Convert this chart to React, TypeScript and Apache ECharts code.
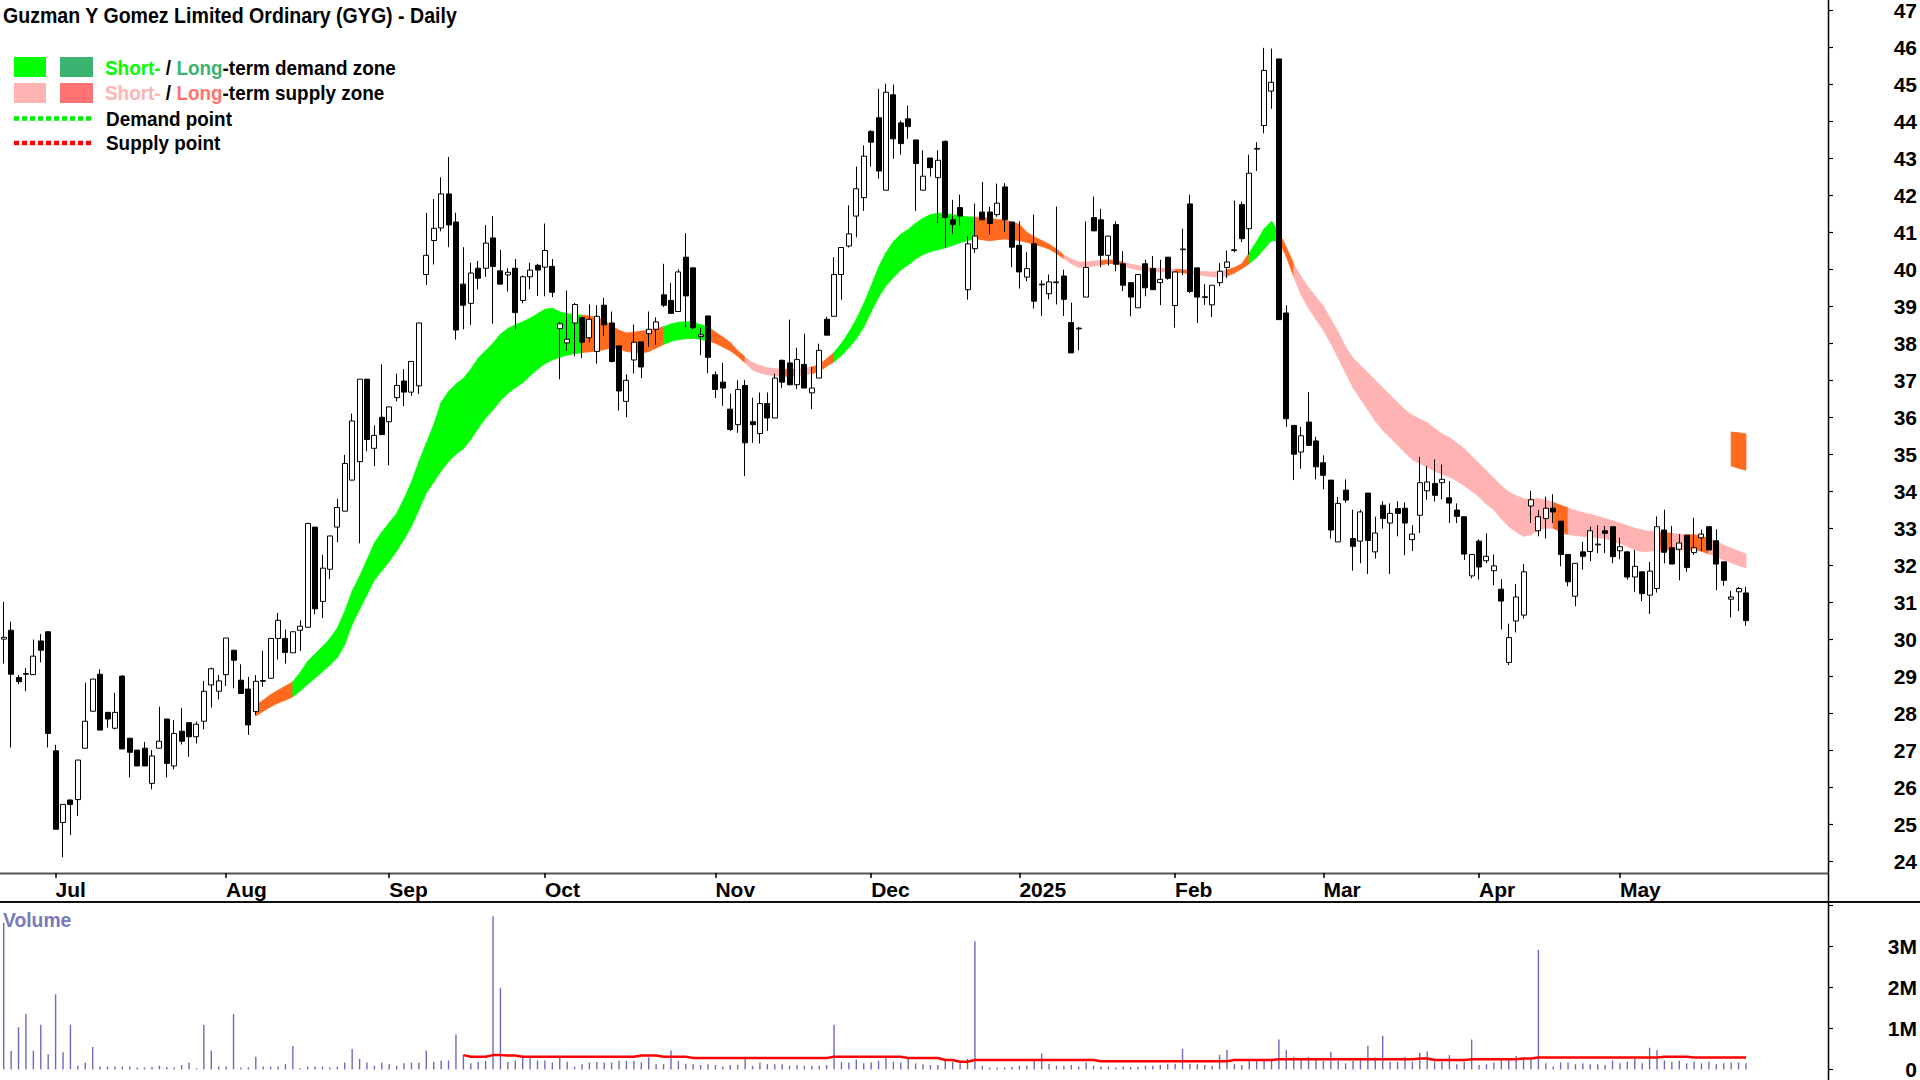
import React, { useEffect, useRef } from 'react';
import * as echarts from 'echarts';

const TITLE = 'Guzman Y Gomez Limited Ordinary (GYG) - Daily';
const FONT = '"Liberation Sans", Arial, Helvetica, sans-serif';
const monthNames = ['Jan', 'Feb', 'Mar', 'Apr', 'May', 'Jun', 'Jul', 'Aug', 'Sep', 'Oct', 'Nov', 'Dec'];
const holidays = ['2024-12-25', '2024-12-26', '2025-01-01', '2025-01-27', '2025-04-18', '2025-04-21', '2025-04-25', '2025-06-09'];
const slotCount = 247;

const openP = [30.00, 30.24, 28.96, 29.05, 29.04, 29.95, 30.20, 26.98, 25.04, 25.65,
  25.66, 27.05, 28.05, 29.05, 28.02, 27.59, 29.00, 27.32, 27.00, 27.05,
  26.10, 27.05, 27.84, 26.57, 27.51, 27.74, 27.36, 27.78, 28.76, 28.59,
  29.04, 29.70, 28.89, 28.65, 28.04, 28.86, 28.94, 30.02, 30.02, 29.63,
  30.24, 30.32, 33.03, 31.02, 31.89, 33.03, 33.46, 34.30, 34.80, 37.03,
  35.16, 36.00, 35.88, 36.53, 36.98, 36.68, 36.85, 39.86, 40.78, 41.12,
  42.04, 41.28, 39.60, 39.08, 40.03, 40.03, 40.85, 39.96, 39.85, 40.03,
  39.16, 39.80, 40.11, 40.06, 40.08, 38.40, 38.01, 38.55, 38.70, 38.15,
  37.78, 39.03, 38.55, 37.93, 36.43, 37.55, 38.04, 38.26, 38.38, 39.31,
  39.16, 38.86, 40.33, 40.04, 38.18, 38.74, 37.15, 36.95, 36.22, 35.80,
  36.86, 35.88, 35.56, 36.37, 35.98, 37.54, 37.47, 36.88, 37.43, 36.66,
  37.06, 38.65, 38.73, 39.86, 40.63, 41.44, 41.94, 43.73, 44.10, 42.14,
  44.72, 43.96, 44.07, 43.50, 42.14, 43.01, 42.48, 43.46, 41.34, 41.67,
  39.45, 40.56, 41.55, 41.55, 41.48, 42.23, 41.28, 40.65, 39.79, 40.69,
  39.58, 39.34, 39.64, 39.82, 38.56, 38.39, 39.25, 41.40, 41.34, 40.38,
  41.21, 40.15, 39.64, 38.96, 40.15, 40.02, 39.64, 40.33, 39.02, 40.53,
  41.77, 40.04, 39.24, 39.04, 39.64, 40.05, 40.51, 41.75, 41.10, 43.25,
  43.89, 44.82, 45.69, 38.82, 35.78, 35.06, 35.87, 35.36, 34.77, 34.30,
  32.63, 34.03, 32.72, 32.65, 33.95, 32.36, 33.62, 33.14, 33.53, 33.54,
  32.69, 33.35, 34.01, 34.21, 34.23, 33.82, 33.49, 33.31, 31.71, 32.65,
  32.12, 31.85, 31.35, 29.37, 30.49, 30.65, 33.60, 32.93, 33.26, 33.54,
  33.19, 32.29, 31.16, 32.36, 32.37, 32.55, 32.93, 33.04, 32.39, 32.36,
  31.68, 31.82, 31.19, 31.37, 32.95, 32.47, 32.43, 32.81, 32.34, 32.74,
  33.04, 32.66, 32.09, 31.08, 31.28, 31.25];

const closeP = [30.05, 29.05, 28.85, 29.07, 29.54, 29.70, 27.45, 24.86, 25.53, 25.53,
  26.73, 27.78, 28.92, 27.54, 27.84, 28.02, 27.03, 26.94, 26.57, 26.57,
  26.84, 27.24, 26.64, 27.45, 27.24, 27.36, 27.70, 28.59, 29.20, 28.87,
  30.03, 29.43, 28.53, 27.68, 28.86, 28.88, 30.02, 30.51, 29.64, 30.20,
  30.35, 33.13, 30.82, 31.92, 32.79, 33.56, 34.75, 35.90, 37.03, 35.40,
  35.51, 35.53, 36.28, 36.86, 36.68, 37.51, 38.55, 40.38, 41.11, 42.04,
  41.20, 38.36, 39.03, 39.90, 39.76, 40.71, 40.08, 39.60, 39.92, 38.83,
  39.80, 39.98, 39.98, 40.51, 39.38, 38.53, 38.11, 39.05, 38.03, 38.65,
  38.73, 38.50, 37.51, 36.71, 37.00, 38.03, 37.36, 38.38, 38.58, 39.03,
  38.81, 39.93, 39.28, 38.42, 38.23, 37.62, 36.75, 36.79, 35.67, 36.75,
  35.31, 35.80, 36.37, 35.98, 37.06, 36.95, 36.88, 37.56, 36.79, 36.79,
  37.81, 38.22, 39.86, 40.59, 40.96, 42.18, 43.06, 43.44, 42.66, 44.79,
  43.53, 43.40, 43.86, 42.86, 42.52, 42.75, 42.95, 41.40, 41.21, 41.44,
  40.69, 40.90, 41.34, 41.24, 41.79, 41.34, 40.60, 39.93, 40.02, 39.14,
  39.60, 39.66, 39.66, 39.19, 37.74, 38.41, 40.05, 41.04, 40.38, 40.90,
  40.14, 39.57, 39.25, 39.86, 39.50, 39.45, 39.73, 39.76, 39.93, 40.55,
  39.40, 39.25, 39.26, 39.57, 39.95, 40.20, 40.53, 40.83, 42.60, 43.27,
  45.38, 45.06, 38.64, 35.96, 35.00, 35.50, 35.24, 34.66, 34.43, 32.95,
  33.67, 33.76, 32.51, 33.44, 32.67, 32.87, 33.26, 33.40, 33.40, 33.14,
  32.84, 34.23, 34.25, 33.89, 34.32, 33.68, 33.32, 32.30, 32.29, 31.95,
  32.24, 31.98, 31.03, 30.04, 31.14, 31.82, 33.77, 33.31, 33.54, 33.44,
  32.29, 31.55, 32.05, 32.24, 32.93, 32.57, 32.86, 32.23, 32.50, 31.68,
  31.97, 31.23, 31.84, 33.04, 32.35, 32.03, 32.60, 31.94, 32.47, 32.84,
  32.41, 32.03, 31.59, 31.14, 31.37, 30.50];

const lowP = [29.34, 27.07, 28.78, 28.59, 29.03, 29.37, 27.07, 24.86, 24.10, 24.70,
  25.22, 27.05, 28.05, 27.54, 27.61, 27.56, 27.03, 26.26, 26.57, 26.57,
  25.94, 27.05, 26.26, 26.48, 27.15, 26.82, 27.18, 27.56, 28.15, 28.37,
  28.73, 28.67, 28.53, 27.41, 27.95, 28.71, 28.94, 29.45, 29.34, 29.63,
  29.68, 30.32, 30.67, 30.57, 31.62, 32.62, 33.46, 34.30, 32.59, 35.08,
  34.68, 35.53, 34.70, 36.43, 36.30, 36.58, 36.63, 39.58, 40.13, 41.03,
  40.60, 38.10, 38.38, 38.50, 39.46, 39.80, 38.53, 39.60, 39.40, 38.38,
  39.08, 39.46, 39.28, 39.27, 39.25, 37.03, 37.80, 37.65, 37.60, 38.03,
  37.45, 38.20, 37.48, 36.18, 36.00, 37.18, 37.06, 37.90, 37.96, 38.98,
  38.81, 38.86, 38.43, 38.38, 37.68, 37.19, 36.52, 36.31, 35.63, 35.58,
  34.41, 35.31, 35.29, 35.63, 35.98, 36.79, 36.86, 36.76, 36.79, 36.22,
  37.06, 38.22, 38.73, 39.18, 40.59, 40.87, 41.58, 42.78, 42.45, 42.14,
  42.99, 43.10, 43.53, 41.58, 42.14, 42.51, 41.25, 40.58, 40.95, 41.18,
  39.18, 40.44, 41.34, 40.95, 41.42, 41.01, 40.06, 39.48, 39.68, 38.94,
  38.74, 39.19, 39.05, 38.74, 37.74, 37.81, 39.25, 41.04, 40.06, 40.10,
  39.95, 39.41, 38.73, 38.96, 39.27, 39.45, 39.03, 39.72, 38.42, 39.84,
  39.36, 38.55, 39.04, 38.71, 39.55, 39.77, 40.46, 40.74, 40.40, 42.66,
  43.68, 44.34, 38.64, 35.74, 34.30, 34.61, 35.24, 34.32, 34.05, 32.72,
  32.63, 33.69, 31.85, 32.05, 31.76, 32.18, 32.99, 31.76, 32.78, 32.27,
  32.38, 32.87, 33.77, 33.72, 33.78, 33.14, 33.14, 32.14, 31.64, 31.61,
  32.05, 31.46, 30.26, 29.30, 30.18, 30.56, 33.14, 32.78, 32.72, 33.14,
  31.97, 31.43, 30.89, 31.88, 32.11, 32.33, 32.33, 32.05, 32.16, 31.61,
  31.28, 31.03, 30.68, 31.26, 32.05, 32.03, 31.59, 31.82, 32.28, 32.38,
  32.41, 31.32, 31.44, 30.59, 30.76, 30.36];

const highP = [31.01, 30.47, 29.03, 29.22, 29.99, 30.14, 30.20, 27.14, 25.53, 25.66,
  26.73, 28.82, 28.92, 29.18, 28.02, 28.55, 29.03, 27.32, 27.00, 27.22,
  27.00, 28.17, 27.84, 27.81, 28.14, 27.74, 27.77, 28.87, 29.23, 29.03,
  30.03, 29.70, 29.32, 28.98, 29.03, 29.68, 30.02, 30.71, 30.26, 30.20,
  30.51, 33.13, 33.03, 32.28, 32.79, 33.80, 34.98, 36.10, 37.03, 37.03,
  35.78, 37.43, 36.28, 37.18, 37.30, 37.51, 38.55, 41.53, 41.90, 42.49,
  43.04, 41.53, 40.60, 40.18, 40.23, 41.20, 41.44, 40.53, 40.03, 40.28,
  39.83, 40.18, 40.15, 41.24, 40.28, 38.58, 39.43, 39.09, 38.70, 39.05,
  39.03, 39.23, 38.86, 37.93, 37.16, 38.51, 38.04, 38.86, 38.70, 40.15,
  39.63, 40.00, 40.98, 40.04, 38.42, 38.74, 37.24, 37.47, 36.64, 37.00,
  37.01, 36.53, 36.67, 36.67, 37.18, 37.56, 38.64, 37.88, 38.26, 37.36,
  37.99, 38.72, 40.33, 40.59, 41.73, 42.78, 43.35, 43.76, 44.88, 45.02,
  45.00, 44.02, 44.43, 43.50, 43.22, 43.01, 43.22, 43.49, 41.88, 42.02,
  40.90, 41.78, 42.36, 41.69, 42.32, 42.33, 41.28, 41.30, 40.47, 41.48,
  39.70, 39.86, 41.70, 39.99, 39.10, 38.44, 41.30, 41.97, 41.64, 40.90,
  41.30, 40.49, 39.64, 39.86, 40.26, 40.36, 40.26, 40.33, 39.93, 41.10,
  42.02, 40.04, 39.60, 39.57, 40.17, 40.51, 41.86, 41.83, 43.10, 43.44,
  45.99, 45.97, 45.69, 39.03, 35.78, 35.74, 36.68, 35.47, 34.97, 34.30,
  33.85, 34.32, 33.50, 33.50, 33.95, 33.31, 33.73, 33.67, 33.73, 33.70,
  33.08, 34.93, 34.68, 34.86, 34.72, 34.27, 33.67, 33.31, 32.29, 32.70,
  32.86, 32.29, 31.62, 30.42, 31.49, 32.03, 34.01, 33.49, 33.85, 33.92,
  33.19, 32.29, 32.05, 32.63, 33.04, 33.08, 33.06, 33.04, 32.74, 32.36,
  32.41, 31.82, 32.09, 33.32, 33.50, 33.06, 32.84, 32.81, 33.28, 32.96,
  33.04, 32.97, 32.09, 31.30, 31.41, 31.41];

// volume in millions of shares
const volumeM = [3.57, 0.45, 1.03, 1.35, 0.46, 1.09, 0.37, 1.83, 0.42, 1.09,
  0.09, 0.17, 0.55, 0.07, 0.07, 0.07, 0.07, 0.07, 0.05, 0.05,
  0.06, 0.09, 0.06, 0.05, 0.11, 0.17, 0.03, 1.09, 0.46, 0.07,
  0.07, 1.35, 0.05, 0.05, 0.31, 0.07, 0.07, 0.07, 0.13, 0.57,
  0.03, 0.07, 0.07, 0.07, 0.05, 0.07, 0.17, 0.50, 0.26, 0.17,
  0.09, 0.17, 0.13, 0.09, 0.15, 0.17, 0.17, 0.46, 0.19, 0.22,
  0.22, 0.85, 0.35, 0.15, 0.18, 0.21, 3.73, 1.99, 0.18, 0.22,
  0.29, 0.33, 0.22, 0.22, 0.17, 0.34, 0.19, 0.07, 0.13, 0.17,
  0.18, 0.17, 0.17, 0.21, 0.21, 0.21, 0.17, 0.30, 0.13, 0.13,
  0.46, 0.21, 0.14, 0.13, 0.11, 0.13, 0.11, 0.07, 0.11, 0.11,
  0.26, 0.09, 0.17, 0.13, 0.13, 0.13, 0.09, 0.11, 0.09, 0.09,
  0.09, 0.11, 1.09, 0.18, 0.17, 0.24, 0.15, 0.17, 0.21, 0.31,
  0.19, 0.17, 0.26, 0.15, 0.13, 0.11, 0.11, 0.26, 0.19, 0.15,
  0.26, 3.12, 0.09, 0.05, 0.05, 0.05, 0.06, 0.09, 0.09, 0.25,
  0.39, 0.14, 0.09, 0.09, 0.11, 0.07, 0.17, 0.09, 0.07, 0.07,
  0.05, 0.07, 0.06, 0.06, 0.09, 0.09, 0.11, 0.14, 0.14, 0.50,
  0.14, 0.13, 0.11, 0.09, 0.36, 0.48, 0.14, 0.11, 0.26, 0.24,
  0.25, 0.26, 0.73, 0.48, 0.31, 0.26, 0.31, 0.26, 0.21, 0.43,
  0.21, 0.15, 0.21, 0.26, 0.58, 0.29, 0.82, 0.19, 0.19, 0.31,
  0.19, 0.41, 0.44, 0.19, 0.19, 0.35, 0.13, 0.19, 0.73, 0.11,
  0.13, 0.17, 0.26, 0.26, 0.33, 0.26, 0.26, 2.91, 0.15, 0.07,
  0.17, 0.17, 0.13, 0.15, 0.13, 0.13, 0.11, 0.22, 0.15, 0.19,
  0.26, 0.15, 0.53, 0.47, 0.22, 0.19, 0.21, 0.15, 0.19, 0.15,
  0.19, 0.13, 0.15, 0.17, 0.17, 0.15];

// red volume average line, starting at candle 62
const volumeAvgStart = 62;
const volumeAvg = [0.35, 0.31, 0.31, 0.31, 0.35, 0.35, 0.34, 0.34,
  0.31, 0.31, 0.31, 0.31, 0.31, 0.31, 0.31, 0.31, 0.31, 0.31, 0.31, 0.31, 0.31, 0.31, 0.31, 0.31,
  0.34, 0.34, 0.34, 0.31, 0.31, 0.31, 0.31,
  0.28, 0.28, 0.28, 0.28, 0.28, 0.28, 0.28, 0.28, 0.28, 0.28, 0.28, 0.28, 0.28, 0.28, 0.28, 0.28, 0.28, 0.28, 0.28,
  0.31, 0.31, 0.31, 0.31, 0.31, 0.31, 0.31, 0.31, 0.31, 0.31,
  0.28, 0.28, 0.28, 0.28, 0.28, 0.23, 0.23, 0.19, 0.19,
  0.23, 0.23, 0.23, 0.23, 0.23, 0.23, 0.23, 0.23, 0.23, 0.23, 0.23, 0.23, 0.23, 0.23, 0.23, 0.23, 0.23,
  0.20, 0.20, 0.20, 0.20, 0.20, 0.20, 0.20, 0.20, 0.20, 0.20, 0.20, 0.20, 0.20, 0.20, 0.20, 0.20, 0.20, 0.20,
  0.23, 0.23, 0.23, 0.23, 0.23, 0.23,
  0.25, 0.25, 0.25, 0.25, 0.25, 0.25, 0.25, 0.25, 0.25, 0.25, 0.25, 0.25, 0.25, 0.25, 0.25, 0.25, 0.25, 0.25, 0.25,
  0.27, 0.27, 0.23, 0.23, 0.23, 0.23, 0.23,
  0.25, 0.25, 0.25, 0.25, 0.25, 0.25, 0.25, 0.27, 0.27,
  0.29, 0.29, 0.29, 0.29, 0.29, 0.29, 0.29, 0.29, 0.29, 0.29, 0.29, 0.29, 0.29, 0.29, 0.29, 0.29, 0.29,
  0.31, 0.31, 0.31, 0.31, 0.29, 0.29, 0.29, 0.29, 0.29, 0.29, 0.29, 0.29];

// demand / supply zone band, starting at candle 34
const zoneStart = 34;
const zoneTop = [28.22, 28.35, 28.5, 28.62, 28.73, 28.85, 29.1, 29.4, 29.6, 29.8,
  30.02, 30.3, 30.75, 31.3, 31.7, 32.15, 32.6, 32.9, 33.15, 33.4,
  33.8, 34.25, 34.8, 35.3, 35.8, 36.4, 36.7, 36.9, 37.05, 37.3,
  37.6, 37.8, 38.0, 38.25, 38.4, 38.5, 38.58, 38.68, 38.8, 38.92,
  38.95, 38.85, 38.8, 38.78, 38.76, 38.74, 38.7, 38.62, 38.48, 38.35,
  38.28, 38.3, 38.33, 38.35, 38.38, 38.45, 38.52, 38.57, 38.58, 38.57,
  38.5, 38.45, 38.3, 38.17, 38.02, 37.8, 37.63, 37.48, 37.4, 37.34,
  37.31, 37.3, 37.29, 37.3, 37.33, 37.36, 37.42, 37.58, 37.75, 38.0,
  38.3, 38.65, 39.07, 39.55, 40.06, 40.45, 40.75, 40.95, 41.08, 41.25,
  41.38, 41.48, 41.52, 41.51, 41.48, 41.45, 41.42, 41.41, 41.4, 41.38,
  41.35, 41.33, 41.28, 41.22, 41.0, 40.88, 40.78, 40.68, 40.55, 40.38,
  40.28, 40.2, 40.2, 40.22, 40.24, 40.26, 40.24, 40.2, 40.14, 40.1,
  40.06, 40.04, 40.03, 40.02, 40.0, 39.99, 39.97, 39.95, 39.94, 39.93,
  39.93, 39.98, 40.05, 40.15, 40.45, 40.75, 41.1, 41.3, 41.0, 40.6,
  40.15, 39.8, 39.5, 39.25, 39.0, 38.65, 38.3, 37.9, 37.6, 37.4,
  37.2, 37.0, 36.8, 36.6, 36.4, 36.2, 36.05, 35.95, 35.85, 35.7,
  35.55, 35.45, 35.3, 35.15, 34.95, 34.75, 34.55, 34.35, 34.15, 33.98,
  33.88, 33.8, 33.78, 33.8, 33.76, 33.7, 33.62, 33.55, 33.48, 33.42,
  33.38, 33.32, 33.26, 33.2, 33.13, 33.07, 33.0, 32.95, 32.92, 32.9,
  32.88, 32.86, 32.84, 32.83, 32.82, 32.78, 32.72, 32.65, 32.54, 32.46,
  32.38, 32.3];
const zoneBottom = [27.92, 28.05, 28.17, 28.27, 28.35, 28.44, 28.6, 28.78, 28.95, 29.12,
  29.3, 29.5, 29.85, 30.4, 30.8, 31.2, 31.6, 31.85, 32.1, 32.38,
  32.7, 33.05, 33.5, 33.95, 34.25, 34.55, 34.8, 35.0, 35.15, 35.4,
  35.7, 35.98, 36.2, 36.45, 36.65, 36.8, 36.93, 37.12, 37.3, 37.45,
  37.55, 37.62, 37.68, 37.72, 37.75, 37.77, 37.79, 37.83, 37.88, 37.85,
  37.78, 37.75, 37.73, 37.78, 37.87, 37.97, 38.05, 38.1, 38.12, 38.14,
  38.1, 38.07, 38.0, 37.9, 37.8, 37.65, 37.47, 37.28, 37.2, 37.15,
  37.12, 37.11, 37.11, 37.12, 37.15, 37.18, 37.24, 37.38, 37.5, 37.67,
  37.88, 38.12, 38.44, 38.85, 39.25, 39.55, 39.78, 39.98, 40.12, 40.28,
  40.4, 40.48, 40.53, 40.58, 40.65, 40.72, 40.78, 40.82, 40.8, 40.77,
  40.8, 40.82, 40.8, 40.78, 40.73, 40.68, 40.62, 40.55, 40.43, 40.29,
  40.15, 40.05, 40.06, 40.09, 40.12, 40.16, 40.15, 40.1, 40.03, 39.99,
  39.95, 39.94, 39.93, 39.93, 39.92, 39.91, 39.88, 39.86, 39.83, 39.8,
  39.79, 39.82, 39.9, 40.02, 40.15, 40.32, 40.55, 40.78, 40.75, 40.35,
  39.8, 39.3, 38.95, 38.65, 38.35, 38.0, 37.6, 37.2, 36.8, 36.5,
  36.2, 35.9, 35.65, 35.45, 35.25, 35.05, 34.85, 34.75, 34.65, 34.55,
  34.45, 34.38, 34.28, 34.15, 34.0, 33.85, 33.65, 33.5, 33.25, 33.05,
  32.9, 32.78, 32.82, 32.95, 33.0, 33.0, 32.9, 32.83, 32.8, 32.78,
  32.76, 32.74, 32.72, 32.66, 32.59, 32.5, 32.42, 32.36, 32.38, 32.4,
  32.41, 32.41, 32.41, 32.41, 32.41, 32.38, 32.3, 32.24, 32.14, 32.07,
  31.99, 31.93];
// [from candle, to candle, kind]  g = short-term demand, o = long-term, p = short-term supply
const zoneKinds: [number, number, string][] = [
  [34, 39, 'o'], [39, 78, 'g'], [78, 89, 'o'], [89, 95, 'g'], [95, 100, 'o'], [100, 105, 'p'],
  [105, 107, 'o'], [107, 109, 'p'], [109, 112, 'o'], [112, 131, 'g'], [131, 143, 'o'], [143, 148, 'p'],
  [148, 151, 'o'], [151, 158, 'p'], [158, 160, 'o'], [160, 165, 'p'], [165, 168, 'o'], [168, 172, 'g'],
  [172, 174, 'o'], [174, 209, 'p'], [209, 211, 'o'], [211, 223, 'p'], [223, 225, 'o'], [225, 227, 'p'],
  [227, 230, 'o'], [230, 235, 'p'],
];
const projStart = 233;
const projTop = [35.6, 35.58, 35.55];
const projBottom = [34.68, 34.62, 34.57];

const kindColors: Record<string, string> = { g: '#00ff00', o: '#ff6a1f', p: '#ffb3b3' };

function buildDates(): string[] {
  const out: string[] = [];
  const d = new Date(Date.UTC(2024, 5, 20));
  while (out.length < slotCount) {
    const wd = d.getUTCDay();
    const s = d.toISOString().slice(0, 10);
    if (wd !== 0 && wd !== 6 && !holidays.includes(s)) out.push(s);
    d.setUTCDate(d.getUTCDate() + 1);
  }
  return out;
}

function kindAt(i: number): string {
  for (const [a, b, k] of zoneKinds) if (i >= a && i < b) return k;
  return 'p';
}

export default function App() {
  const ref = useRef<HTMLDivElement>(null);
  useEffect(() => {
    if (!ref.current) return;
    const chart = echarts.init(ref.current, undefined, { renderer: 'svg' });
    const dates = buildDates();
    const monthLabelAt: Record<number, string> = {};
    for (let i = 1; i < closeP.length; i++) {
      if (dates[i].slice(5, 7) !== dates[i - 1].slice(5, 7)) {
        const m = +dates[i].slice(5, 7);
        monthLabelAt[i] = m === 1 ? dates[i].slice(0, 4) : monthNames[m - 1];
      }
    }
    const isMonthStart = (idx: number) => monthLabelAt[idx] !== undefined;

    const candles = openP.map((o, i) => [o, closeP[i], lowP[i], highP[i]]);
    const zoneData: number[][] = [];
    for (let j = 0; j < zoneTop.length - 1; j++) {
      const i = zoneStart + j;
      zoneData.push([i, zoneTop[j], zoneBottom[j], zoneTop[j + 1], zoneBottom[j + 1], 'gop'.indexOf(kindAt(i))]);
    }
    for (let j = 0; j < projTop.length - 1; j++) {
      const i = projStart + j;
      zoneData.push([i, projTop[j], projBottom[j], projTop[j + 1], projBottom[j + 1], 1]);
    }
    const avgLine = closeP.map((_, i) =>
      i >= volumeAvgStart && i - volumeAvgStart < volumeAvg.length ? volumeAvg[i - volumeAvgStart] : null);

    const labelStyle = { fontFamily: FONT, fontWeight: 'bold' as const, fontSize: 21, color: '#000' };
    const gridLeft = -1.5;
    const gridWidth = slotCount * 7.42;
    const gridRight = 1920 - (gridLeft + gridWidth);
    const yOffset = 1828 - (gridLeft + gridWidth);

    const option: any = {
      animation: false,
      backgroundColor: '#ffffff',
      grid: [
        { left: gridLeft, right: gridRight, top: 10, height: 851 },
        { left: gridLeft, right: gridRight, top: 905.2, height: 166.8 },
      ],
      xAxis: [
        {
          type: 'category', gridIndex: 0, data: dates, boundaryGap: true, offset: 12,
          axisLine: { show: false },
          axisTick: { show: true, interval: isMonthStart, alignWithLabel: true, length: 5, lineStyle: { color: '#000', width: 1.5 } },
          axisLabel: {
            ...labelStyle, interval: isMonthStart, align: 'left', margin: 6,
            formatter: (_v: string, idx: number) => monthLabelAt[idx] ?? '',
          },
          splitLine: { show: false },
        },
        {
          type: 'category', gridIndex: 1, data: dates, boundaryGap: true,
          axisLine: { show: false }, axisTick: { show: false }, axisLabel: { show: false }, splitLine: { show: false },
        },
      ],
      yAxis: [
        {
          type: 'value', gridIndex: 0, position: 'right', offset: yOffset, min: 24, max: 47, interval: 1,
          axisLine: { show: false },
          axisTick: { show: true, length: 5, lineStyle: { color: '#000', width: 1.2 } },
          axisLabel: { ...labelStyle, align: 'right', margin: 89 },
          splitLine: { show: false },
        },
        {
          type: 'value', gridIndex: 1, position: 'right', offset: yOffset, min: 0, max: 4, interval: 1,
          axisLine: { show: false },
          axisTick: { show: true, length: 5, lineStyle: { color: '#000', width: 1.2 } },
          axisLabel: {
            ...labelStyle, align: 'right', margin: 89,
            formatter: (v: number) => (v === 0 ? '0' : v <= 3 ? `${v}M` : ''),
          },
          splitLine: { show: false },
        },
      ],
      series: [
        {
          type: 'custom', name: 'zones', xAxisIndex: 0, yAxisIndex: 0, z: 1, silent: true,
          data: zoneData,
          encode: { x: 0, y: [1, 2, 3, 4] },
          renderItem: (_p: any, api: any) => {
            const i = api.value(0);
            const color = kindColors['gop'[api.value(5)]];
            const p1 = api.coord([i, api.value(1)]);
            const p2 = api.coord([i + 1, api.value(3)]);
            const p3 = api.coord([i + 1, api.value(4)]);
            const p4 = api.coord([i, api.value(2)]);
            return {
              type: 'polygon',
              shape: { points: [p1, p2, p3, p4] },
              style: { fill: color, stroke: color, lineWidth: 0.8 },
            };
          },
        },
        {
          type: 'candlestick', name: 'GYG', xAxisIndex: 0, yAxisIndex: 0, z: 3, silent: true,
          data: candles, barWidth: 5.5, clip: false,
          itemStyle: { color: '#ffffff', color0: '#000000', borderColor: '#000000', borderColor0: '#000000', borderWidth: 1 },
        },
        {
          type: 'bar', name: 'Volume', xAxisIndex: 1, yAxisIndex: 1, silent: true,
          data: volumeM, barWidth: 1.4, itemStyle: { color: '#6b6bbf' },
        },
        {
          type: 'line', name: 'Volume average', xAxisIndex: 1, yAxisIndex: 1, silent: true, z: 4,
          data: avgLine, symbol: 'none', connectNulls: false,
          lineStyle: { color: '#ff0000', width: 2.5 },
        },
      ],
      graphic: [
        { type: 'line', shape: { x1: 1828.5, y1: 0, x2: 1828.5, y2: 1080 }, style: { stroke: '#000', lineWidth: 1.5 }, silent: true },
        { type: 'line', shape: { x1: 0, y1: 873.5, x2: 1828.5, y2: 873.5 }, style: { stroke: '#555', lineWidth: 2 }, silent: true },
        { type: 'line', shape: { x1: 0, y1: 902, x2: 1920, y2: 902 }, style: { stroke: '#111', lineWidth: 2 }, silent: true },
        {
          type: 'text', x: 3, y: 15, scaleX: 0.89, silent: true,
          style: { text: TITLE, fontFamily: FONT, fontWeight: 'bold', fontSize: 22, fill: '#000', verticalAlign: 'middle', align: 'left' },
        },
        { type: 'rect', shape: { x: 14, y: 57, width: 32, height: 20 }, style: { fill: '#00ff00' }, silent: true },
        { type: 'rect', shape: { x: 60, y: 57, width: 33, height: 20 }, style: { fill: '#3cb371' }, silent: true },
        { type: 'rect', shape: { x: 14, y: 83, width: 32, height: 20 }, style: { fill: '#ffb3b3' }, silent: true },
        { type: 'rect', shape: { x: 60, y: 83, width: 33, height: 20 }, style: { fill: '#ff7373' }, silent: true },
        {
          type: 'text', x: 105, y: 68, scaleX: 0.9, silent: true,
          style: {
            text: '{a|Short-} / {b|Long}-term demand zone', fontFamily: FONT, fontWeight: 'bold', fontSize: 21, fill: '#000', verticalAlign: 'middle',
            rich: {
              a: { fill: '#00ff00', fontFamily: FONT, fontWeight: 'bold', fontSize: 21 },
              b: { fill: '#3cb371', fontFamily: FONT, fontWeight: 'bold', fontSize: 21 },
            },
          },
        },
        {
          type: 'text', x: 105, y: 93, scaleX: 0.9, silent: true,
          style: {
            text: '{a|Short-} / {b|Long}-term supply zone', fontFamily: FONT, fontWeight: 'bold', fontSize: 21, fill: '#000', verticalAlign: 'middle',
            rich: {
              a: { fill: '#ffb3b3', fontFamily: FONT, fontWeight: 'bold', fontSize: 21 },
              b: { fill: '#ff7373', fontFamily: FONT, fontWeight: 'bold', fontSize: 21 },
            },
          },
        },
        { type: 'line', shape: { x1: 14, y1: 118.5, x2: 92, y2: 118.5 }, style: { stroke: '#00ee00', lineWidth: 4.5, lineDash: [5, 3] }, silent: true },
        { type: 'line', shape: { x1: 14, y1: 143, x2: 92, y2: 143 }, style: { stroke: '#ff0000', lineWidth: 4.5, lineDash: [5, 3] }, silent: true },
        {
          type: 'text', x: 106, y: 119, scaleX: 0.9, silent: true,
          style: { text: 'Demand point', fontFamily: FONT, fontWeight: 'bold', fontSize: 21, fill: '#000', verticalAlign: 'middle' },
        },
        {
          type: 'text', x: 106, y: 143, scaleX: 0.9, silent: true,
          style: { text: 'Supply point', fontFamily: FONT, fontWeight: 'bold', fontSize: 21, fill: '#000', verticalAlign: 'middle' },
        },
        {
          type: 'text', x: 3, y: 920, scaleX: 0.92, silent: true, z: 10,
          style: { text: 'Volume', fontFamily: FONT, fontWeight: 'bold', fontSize: 21, fill: '#7878bd', verticalAlign: 'middle' },
        },
      ],
    };
    chart.setOption(option);
    return () => chart.dispose();
  }, []);
  return <div ref={ref} style={{ position: 'fixed', left: 0, top: 0, width: 1920, height: 1080, background: '#fff' }} />;
}
